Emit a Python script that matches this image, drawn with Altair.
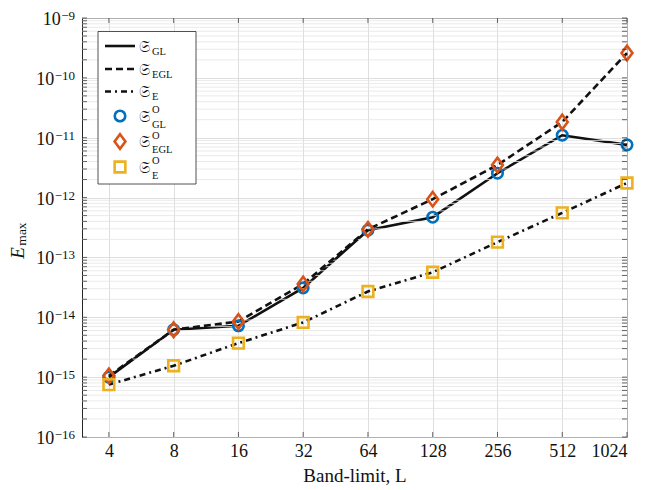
import json
import altair as alt
import pandas as pd

# ---------------- data ----------------
L = [4, 8, 16, 32, 64, 128, 256, 512, 1024]
GL = [1.0e-15, 6.2e-15, 7.2e-15, 3.1e-14, 2.85e-13, 4.7e-13, 2.55e-12, 1.1e-11, 7.6e-12]
EGL = [1.05e-15, 6.2e-15, 8.5e-15, 3.6e-14, 2.95e-13, 9.4e-13, 3.5e-12, 1.83e-11, 2.6e-10]
E = [7.5e-16, 1.55e-15, 3.7e-15, 8.2e-15, 2.7e-14, 5.65e-14, 1.8e-13, 5.55e-13, 1.75e-12]

x_tick_labels = ["4", "8", "16", "32", "64", "128", "256", "512", "1024"]
y_ticks = [1e-16, 1e-15, 1e-14, 1e-13, 1e-12, 1e-11, 1e-10, 1e-9]
y_tick_base = ["10"] * 8
y_tick_exp = ["−16", "−15", "−14", "−13", "−12", "−11", "−10", "−9"]
legend_sub = ["GL", "EGL", "E", "GL", "EGL", "E"]
legend_sup = ["", "", "", "O", "O", "O"]

# ---------------- layout / style ----------------
W, H = 545, 419
FONT = "'Liberation Serif', 'DejaVu Serif', serif"
FRAK = "'DejaVu Serif', 'DejaVu Sans', 'Noto Sans', serif"
INK = "#262626"
TXT = "#111111"
BLUE, ORANGE, YELLOW = "#0072BD", "#D95319", "#EDB120"
DIAMOND = "M0,-1L0.75,0L0,1L-0.75,0Z"
LAB_FS, EXP_FS = 18, 13

xs = alt.Scale(type="log", base=2, domain=[3, 1024], nice=False)
ys = alt.Scale(type="log", domain=[1e-16, 1e-9], nice=False)

x_expr = json.dumps(x_tick_labels) + "[round(log(datum.value)/LN2)-2]"

X_AXIS = alt.Axis(values=L, labelExpr=x_expr, title="Band-limit, L", grid=True, ticks=False,
                  domain=False, labelPadding=5, titlePadding=6, gridColor="#d6d6d6", gridWidth=0.8,
                  labelFont=FONT, labelFontSize=LAB_FS, labelColor=TXT,
                  titleFont=FONT, titleFontSize=19, titleFontWeight="normal", titleColor=TXT)
Y_AXIS = alt.Axis(values=y_ticks, labels=False, title=None, grid=True, ticks=False,
                  domain=False, gridColor="#d6d6d6", gridWidth=0.8)
X = alt.X("L:Q", scale=xs, axis=X_AXIS)
Y = alt.Y("v:Q", scale=ys, axis=Y_AXIS)

df = pd.DataFrame({
    "L": L * 3,
    "v": GL + EGL + E,
    "s": ["GL"] * len(L) + ["EGL"] * len(L) + ["E"] * len(L),
})
d_gl = df[df.s == "GL"]
d_egl = df[df.s == "EGL"]
d_e = df[df.s == "E"]

minor = [k * 10.0 ** d for d in range(-16, -9) for k in range(2, 10)]
all_y = pd.DataFrame({"v": sorted(minor + y_ticks)})
minor_df = pd.DataFrame({"v": minor})
xt_df = pd.DataFrame({"L": L})

line_gl = alt.Chart(d_gl).mark_line(color=TXT, strokeWidth=2.6).encode(x=X, y=Y)

minor_grid = alt.Chart(minor_df).mark_rule(color="#e4e4e4", strokeWidth=0.8).encode(y=Y)

tick_l = alt.Chart(all_y).mark_rule(color=INK, strokeWidth=0.7).encode(
    y=Y, x=alt.value(0), x2=alt.value(5))
tick_r = alt.Chart(all_y).mark_rule(color=INK, strokeWidth=0.7).encode(
    y=Y, x=alt.value(W - 5), x2=alt.value(W))
tick_b = alt.Chart(xt_df).mark_rule(color=INK, strokeWidth=0.7).encode(
    x=X, y=alt.value(H - 5), y2=alt.value(H))
tick_t = alt.Chart(xt_df).mark_rule(color=INK, strokeWidth=0.7).encode(
    x=X, y=alt.value(0), y2=alt.value(5))

line_egl = alt.Chart(d_egl).mark_line(color=TXT, strokeWidth=2.6, strokeDash=[7, 4]).encode(x=X, y=Y)
line_e = alt.Chart(d_e).mark_line(color=TXT, strokeWidth=2.6, strokeDash=[6, 4, 2, 4]).encode(x=X, y=Y)

pt_gl = alt.Chart(d_gl).mark_point(shape="circle", filled=False, size=110, strokeWidth=2.6,
                                   color=BLUE, opacity=1).encode(x=X, y=Y)
pt_egl = alt.Chart(d_egl).mark_point(shape=DIAMOND, filled=False, size=210, strokeWidth=2.6,
                                     color=ORANGE, opacity=1).encode(x=X, y=Y)
pt_e = alt.Chart(d_e).mark_point(shape="square", filled=False, size=115, strokeWidth=2.6,
                                 color=YELLOW, opacity=1).encode(x=X, y=Y)

# ---------------- y tick labels  10^{-n} ----------------
LAB_RIGHT = -7


def exp_width(s):
    return sum(0.564 if ch == "−" else 0.5 for ch in s) * EXP_FS


ylab = pd.DataFrame({
    "v": y_ticks,
    "base": y_tick_base,
    "exp": y_tick_exp,
    "x10": [LAB_RIGHT - exp_width(s) - 0.5 for s in y_tick_exp],
})
ylab_base = alt.Chart(ylab).mark_text(align="right", baseline="alphabetic", dy=7, fontSize=LAB_FS,
                                      font=FONT, color=TXT).encode(
    x=alt.X("x10:Q", scale=None), y=Y, text="base:N")
ylab_exp = alt.Chart(ylab).mark_text(align="right", baseline="alphabetic", dy=2, fontSize=EXP_FS,
                                     font=FONT, color=TXT).encode(
    x=alt.value(LAB_RIGHT), y=Y, text="exp:N")

# ---------------- legend ----------------
rows = [28, 51, 73.5, 98, 123.5, 149]
one = pd.DataFrame({"a": [0]})
box = alt.Chart(one).mark_rect(fill="white", stroke=INK, strokeWidth=0.8).encode(
    x=alt.value(16), x2=alt.value(114), y=alt.value(13.5), y2=alt.value(166))

leg_lines = []
for r, dash in zip(rows[:3], [None, [7, 4], [6, 4, 2, 4]]):
    kw = {"strokeDash": dash} if dash else {}
    leg_lines.append(alt.Chart(one).mark_rule(color=TXT, strokeWidth=2.6, **kw).encode(
        x=alt.value(23), x2=alt.value(53), y=alt.value(r)))
leg_pts = []
for r, shp, col, sz in zip(rows[3:], ["circle", DIAMOND, "square"], [BLUE, ORANGE, YELLOW], [110, 210, 115]):
    leg_pts.append(alt.Chart(one).mark_point(shape=shp, filled=False, size=sz, strokeWidth=2.6,
                                             color=col, opacity=1).encode(x=alt.value(38), y=alt.value(r)))

leg_df = pd.DataFrame({
    "row": rows,
    "sub": legend_sub,
    "sup": legend_sup,
    "base": [r + 5.5 for r in rows],
    "suby": [r + (8.5 if s == "" else 11.5) for r, s in zip(rows, legend_sup)],
    "supy": [r - 3 for r in rows],
})
leg_S = alt.Chart(leg_df).mark_text(text="𝔖", align="left", baseline="alphabetic", fontSize=16,
                                    font=FRAK, color=TXT).encode(
    x=alt.value(57), y=alt.Y("base:Q", scale=None))
leg_sub = alt.Chart(leg_df).mark_text(align="left", baseline="alphabetic", fontSize=10.5,
                                      font=FONT, color=TXT).encode(
    x=alt.value(70), y=alt.Y("suby:Q", scale=None), text="sub:N")
leg_sup = alt.Chart(leg_df).mark_text(align="left", baseline="alphabetic", fontSize=10.5,
                                      font=FONT, color=TXT).encode(
    x=alt.value(70), y=alt.Y("supy:Q", scale=None), text="sup:N")

# ---------------- y title  E_max ----------------
t_E = alt.Chart(one).mark_text(text="E", angle=270, fontSize=19, fontStyle="italic", font=FONT,
                               align="center", baseline="middle", color=TXT).encode(
    x=alt.value(-64.5), y=alt.value(235))
t_max = alt.Chart(one).mark_text(text="max", angle=270, fontSize=13.5, font=FONT,
                                 align="center", baseline="middle", color=TXT).encode(
    x=alt.value(-60), y=alt.value(216))

chart = alt.layer(
    line_gl, minor_grid, line_egl, line_e, pt_gl, pt_egl, pt_e,
    tick_l, tick_r, tick_b, tick_t, ylab_base, ylab_exp,
    box, *leg_lines, *leg_pts, leg_S, leg_sub, leg_sup, t_E, t_max,
).properties(
    width=W, height=H,
    autosize=alt.AutoSizeParams(type="none"),
    padding={"left": 74, "top": 10, "right": 20, "bottom": 50},
).configure_view(stroke=INK, strokeWidth=1)

chart.save("out.html", embed_options={"renderer": "svg", "actions": False})
